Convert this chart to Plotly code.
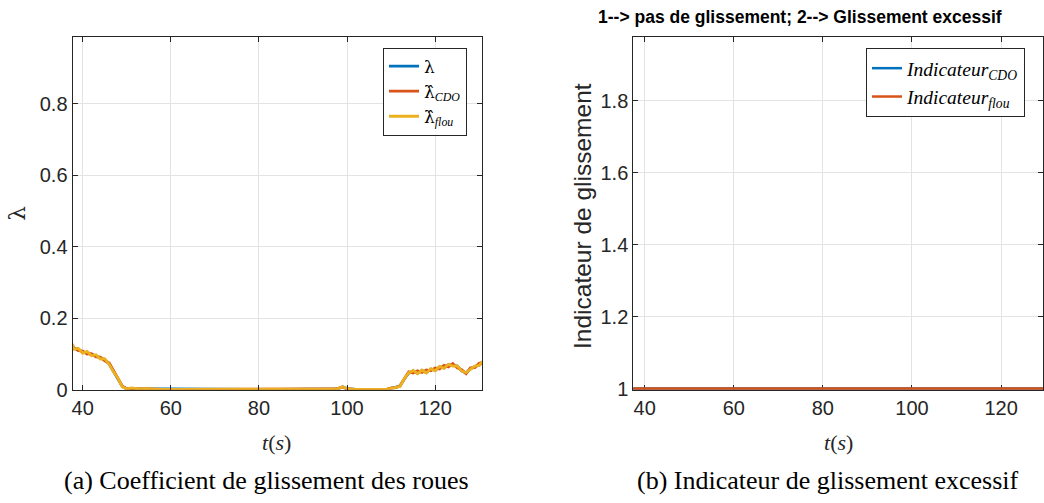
import plotly.graph_objects as go

# ---------------- data ----------------
# time grid (s)
t = [37.7] + list(range(38, 131)) + [130.7]

# segments of the wheel-slip coefficient
head_lam = [0.125, 0.116, 0.113, 0.105, 0.104, 0.098, 0.095, 0.089, 0.084, 0.072,
            0.052, 0.031, 0.009, 0.002, 0.004, 0.003, 0.003, 0.002, 0.002]          # 37.7 .. 55
head_cdo = [0.120, 0.118, 0.109, 0.108, 0.100, 0.101, 0.092, 0.091, 0.081, 0.075,
            0.054, 0.029, 0.010, 0.003, 0.004, 0.002, 0.003, 0.002, 0.002]
head_flou = [0.128, 0.113, 0.116, 0.102, 0.107, 0.095, 0.098, 0.086, 0.087, 0.071,
             0.050, 0.032, 0.008, 0.002, 0.005, 0.003, 0.002, 0.003, 0.002]

flat_mid = [0.001, 0.002, 0.001, 0.001, 0.002, 0.001, 0.001, 0.001, 0.002, 0.001,
            0.001, 0.001, 0.001, 0.002, 0.001, 0.001, 0.001, 0.001, 0.001, 0.001,
            0.001, 0.001, 0.001, 0.000, 0.000, 0.001, 0.001, 0.002, 0.001, 0.002,
            0.002, 0.001, 0.001, 0.002, 0.001, 0.001, 0.001, 0.002, 0.001, 0.001,
            0.002, 0.002]                                                              # 56 .. 97

tail_lam = [0.003, 0.008, 0.003, 0.001, 0.001, 0.001, 0.001, 0.001, 0.001, 0.001,
            0.001, 0.001, 0.004, 0.006, 0.010, 0.030, 0.046, 0.053, 0.046, 0.054,
            0.048, 0.058, 0.054, 0.064, 0.061, 0.070, 0.067, 0.066, 0.053, 0.047,
            0.058, 0.065, 0.069, 0.078]                                                # 98 .. 130.7
tail_cdo = [0.004, 0.007, 0.002, 0.001, 0.001, 0.000, 0.001, 0.001, 0.001, 0.001,
            0.001, 0.001, 0.005, 0.005, 0.011, 0.029, 0.050, 0.047, 0.053, 0.048,
            0.055, 0.053, 0.061, 0.058, 0.068, 0.064, 0.073, 0.061, 0.056, 0.045,
            0.061, 0.062, 0.074, 0.074]
tail_flou = [0.003, 0.008, 0.003, 0.001, 0.001, 0.001, 0.001, 0.001, 0.001, 0.001,
             0.001, 0.001, 0.004, 0.006, 0.009, 0.031, 0.047, 0.054, 0.045, 0.055,
             0.047, 0.059, 0.053, 0.065, 0.060, 0.071, 0.066, 0.067, 0.052, 0.048,
             0.057, 0.066, 0.068, 0.079]

lam = head_lam + flat_mid + tail_lam
lam_cdo = head_cdo + flat_mid + tail_cdo
lam_flou = head_flou + flat_mid + tail_flou

# slip indicators (1 = no slip, 2 = excessive slip)
t_ind = [37.4, 129.5]
ind_cdo = [1, 1]
ind_flou = [1, 1]

x_ticks = [40, 60, 80, 100, 120]
y_ticks_a = [0, 0.2, 0.4, 0.6, 0.8]
y_ticks_a_labels = ["0", "0.2", "0.4", "0.6", "0.8"]
y_ticks_b = [1, 1.2, 1.4, 1.6, 1.8]
y_ticks_b_labels = ["1", "1.2", "1.4", "1.6", "1.8"]

BLUE = "#0072BD"
ORANGE = "#D95319"
YELLOW = "#EDB120"
AX = "#262626"
GRID = "#e3e3e3"

HAT = '<span style="font-family:DejaVu Serif">λ̂</span>'

fig = go.Figure()

fig.add_trace(go.Scatter(x=t, y=lam, mode="lines", line=dict(color=BLUE, width=2.8),
                         name='<span style="font-family:DejaVu Serif">λ</span>',
                         xaxis="x", yaxis="y", legend="legend"))
fig.add_trace(go.Scatter(x=t, y=lam_cdo, mode="lines", line=dict(color=ORANGE, width=2.8),
                         name=HAT + "<sub><i>CDO</i></sub>", xaxis="x", yaxis="y", legend="legend"))
fig.add_trace(go.Scatter(x=t, y=lam_flou, mode="lines", line=dict(color=YELLOW, width=2.8),
                         name=HAT + "<sub><i>flou</i></sub>", xaxis="x", yaxis="y", legend="legend"))

fig.add_trace(go.Scatter(x=t_ind, y=ind_cdo, mode="lines", line=dict(color=BLUE, width=2.5),
                         name="<i>Indicateur</i><sub><i>CDO</i></sub>", xaxis="x2", yaxis="y2",
                         legend="legend2"))
fig.add_trace(go.Scatter(x=t_ind, y=ind_flou, mode="lines", line=dict(color=ORANGE, width=2.5),
                         name="<i>Indicateur</i><sub><i>flou</i></sub>", xaxis="x2", yaxis="y2",
                         legend="legend2"))

axis_common = dict(
    showline=True, linecolor=AX, linewidth=1, mirror="ticks",
    ticks="inside", ticklen=5, tickcolor=AX, tickwidth=1,
    showgrid=True, gridcolor=GRID, gridwidth=1, zeroline=False, automargin=False,
    tickfont=dict(family="Liberation Sans, Arial, sans-serif", size=20, color=AX),
)

fig.update_layout(
    width=1044, height=503,
    margin=dict(l=0, r=0, t=0, b=0, autoexpand=False),
    paper_bgcolor="white", plot_bgcolor="white",
    xaxis=dict(domain=[0.0695, 0.462], range=[37.7, 130.7], tickvals=x_ticks,
               anchor="y", **axis_common),
    yaxis=dict(domain=[0.2252, 0.927], range=[0, 0.987], tickvals=y_ticks_a,
               ticktext=y_ticks_a_labels, anchor="x", **axis_common),
    xaxis2=dict(domain=[0.6066, 0.999], range=[37.45, 129.4], tickvals=x_ticks,
                anchor="y2", layer="below traces", **axis_common),
    yaxis2=dict(domain=[0.2247, 0.9258], range=[0.996, 1.976], tickvals=y_ticks_b,
                ticktext=y_ticks_b_labels, anchor="x2", layer="below traces", **axis_common),
    legend=dict(x=383 / 1044, y=1 - 47.5 / 503, xanchor="left", yanchor="top",
                bgcolor="white", bordercolor=AX, borderwidth=1,
                font=dict(family="Liberation Serif, serif", size=17, color="black"),
                itemwidth=30, tracegroupgap=0),
    legend2=dict(x=866 / 1044, y=1 - 48 / 503, xanchor="left", yanchor="top",
                 bgcolor="white", bordercolor=AX, borderwidth=1,
                 font=dict(family="Liberation Serif, serif", size=19.5, color="black"),
                 itemwidth=30, tracegroupgap=0),
    showlegend=True,
)

ann_font_serif = dict(family="Liberation Serif, serif", size=22, color=AX)
annotations = [
    dict(text="<i>t</i>(<i>s</i>)", x=276.7 / 1044, y=1 - 442 / 503, xref="paper", yref="paper",
         showarrow=False, font=ann_font_serif, xanchor="center", yanchor="middle"),
    dict(text="<i>t</i>(<i>s</i>)", x=838 / 1044, y=1 - 442 / 503, xref="paper", yref="paper",
         showarrow=False, font=ann_font_serif, xanchor="center", yanchor="middle"),
    dict(text="λ", x=16.7 / 1044, y=1 - 213 / 503, xref="paper", yref="paper", textangle=-90,
         showarrow=False, font=dict(family="DejaVu Serif, serif", size=23, color=AX),
         xanchor="center", yanchor="middle"),
    dict(text="Indicateur de glissement", x=583 / 1044, y=1 - 216 / 503, xref="paper", yref="paper",
         textangle=-90, showarrow=False,
         font=dict(family="Liberation Sans, Arial, sans-serif", size=24.5, color=AX),
         xanchor="center", yanchor="middle"),
    dict(text="<b>1--> pas de glissement; 2--> Glissement excessif</b>", x=800 / 1044, y=1 - 17 / 503,
         xref="paper", yref="paper", showarrow=False,
         font=dict(family="Liberation Sans, Arial, sans-serif", size=17.5, color="black"),
         xanchor="center", yanchor="middle"),
    dict(text="(a) Coefficient de glissement des roues", x=266.5 / 1044, y=1 - 480 / 503,
         xref="paper", yref="paper", showarrow=False,
         font=dict(family="Liberation Serif, serif", size=26, color="black"),
         xanchor="center", yanchor="middle"),
    dict(text="(b) Indicateur de glissement excessif", x=828 / 1044, y=1 - 480 / 503,
         xref="paper", yref="paper", showarrow=False,
         font=dict(family="Liberation Serif, serif", size=26, color="black"),
         xanchor="center", yanchor="middle"),
]
fig.update_layout(annotations=annotations)

fig.write_html("out.html",
               config={"displayModeBar": False},
               post_script="document.body.style.margin='0';document.body.style.padding='0';"
                           "document.body.style.overflow='hidden';")
